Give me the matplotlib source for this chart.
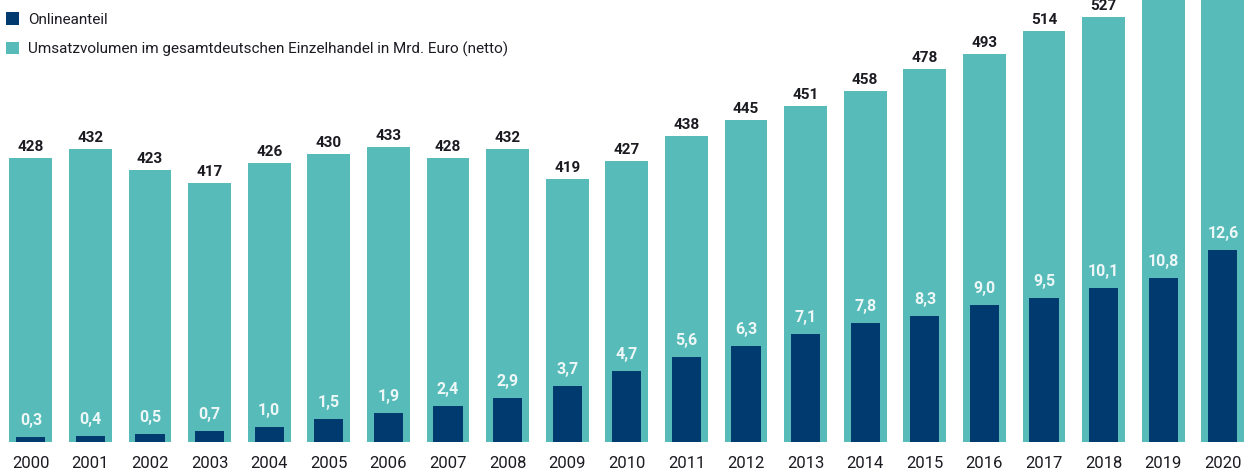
import numpy as np
import matplotlib
matplotlib.use("Agg")
import matplotlib.pyplot as plt

# data
years = list(range(2000, 2021))
umsatz = [428, 432, 423, 417, 426, 430, 433, 428, 432, 419, 427,
          438, 445, 451, 458, 478, 493, 514, 527, 544, 577]
online = [0.3, 0.4, 0.5, 0.7, 1.0, 1.5, 1.9, 2.4, 2.9, 3.7, 4.7,
          5.6, 6.3, 7.1, 7.8, 8.3, 9.0, 9.5, 10.1, 10.8, 12.6]
labels = ["Onlineanteil",
          "Umsatzvolumen im gesamtdeutschen Einzelhandel in Mrd. Euro (netto)"]

TEAL = "#57bcb9"
NAVY = "#003a6e"
DARK = "#1b1b22"

plt.rcParams['font.family'] = ['Roboto', 'DejaVu Sans']

# the original compresses the upper part of the revenue axis
KNEE, RATIO = 458, 0.47


def fwd(v):
    v = np.asarray(v, dtype=float)
    return np.where(v <= KNEE, v, KNEE + (v - KNEE) * RATIO)


def inv(f):
    f = np.asarray(f, dtype=float)
    return np.where(f <= KNEE, f, KNEE + (f - KNEE) / RATIO)


fig = plt.figure(figsize=(12.45, 4.70), dpi=100)
ax = fig.add_axes([0, 28 / 470, 1, 442 / 470])
ax.set_yscale('function', functions=(fwd, inv))
ax.set_ylim(302.3, 543.5)
ax.set_xlim(1999.483, 2020.372)

teal = ax.bar(years, umsatz, width=0.72, color=TEAL, zorder=1)
for x, v in zip(years, umsatz):
    ax.annotate(str(v), (x, v), xytext=(0, 4), textcoords='offset pixels',
                ha='center', va='bottom', fontsize=11, fontweight='semibold',
                color=DARK, annotation_clip=True)

ax2 = ax.twinx()
ax2.set_ylim(0, 442 / 15.2)
navy = ax2.bar(years, online, width=0.49, color=NAVY, zorder=2)
for x, v in zip(years, online):
    ax2.annotate(f"{v:.1f}".replace(".", ","), (x, v), xytext=(0, 9),
                 textcoords='offset pixels', ha='center', va='bottom',
                 fontsize=11.5, fontweight='semibold', color="#eef7f7")

for a in (ax, ax2):
    for s in a.spines.values():
        s.set_visible(False)
    a.set_yticks([])
    a.tick_params(length=0)
ax.set_yticks([], minor=True)
ax2.set_yticks([], minor=True)

ax.set_xticks(years)
ax.set_xticklabels([str(y) for y in years], fontsize=12, color=DARK)
ax.tick_params(axis='x', pad=10)

ax2.legend([navy, teal], labels, loc='upper left', bbox_to_anchor=(0.005, 0.972),
           frameon=False, fontsize=11, handlelength=0.85, handleheight=0.85,
           handletextpad=0.6, labelspacing=0.95, borderaxespad=0, borderpad=0,
           labelcolor=DARK)

fig.savefig("out.png", dpi=100)
